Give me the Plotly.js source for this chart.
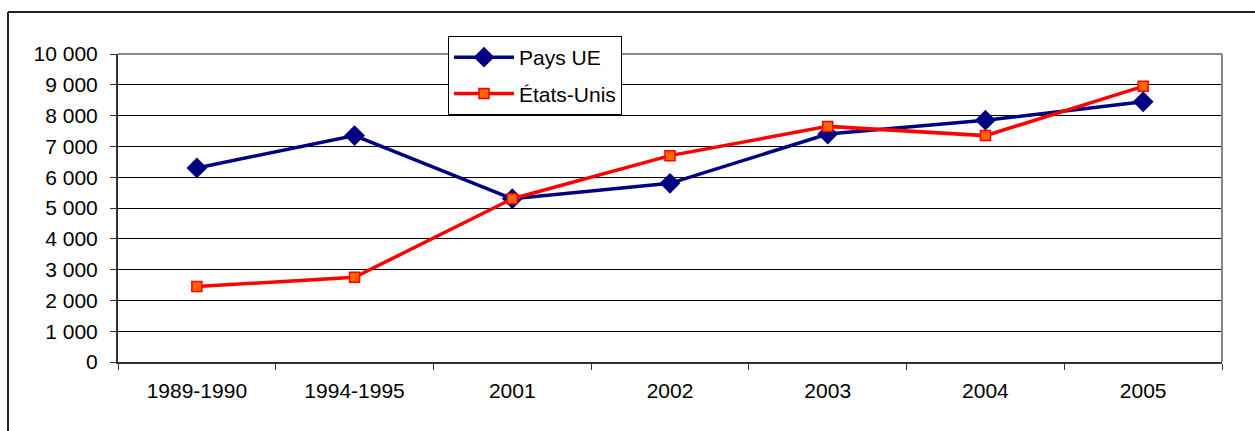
<!DOCTYPE html>
<html>
<head>
<meta charset="utf-8">
<script src="https://cdn.plot.ly/plotly-3.0.1.min.js"></script>
<style>
  html, body { margin: 0; padding: 0; background: #fff; }
  #chart { width: 1255px; height: 431px; }
</style>
</head>
<body>
<div id="chart"></div>
<script>
const categories = ["1989-1990", "1994-1995", "2001", "2002", "2003", "2004", "2005"];
const paysUE = [6300, 7350, 5300, 5800, 7400, 7850, 8450];
const etatsUnis = [2450, 2750, 5300, 6700, 7650, 7350, 8950];
const yTicks = [0, 1000, 2000, 3000, 4000, 5000, 6000, 7000, 8000, 9000, 10000];

const W = 1255, H = 431;
const M = { l: 118, r: 33, t: 54, b: 69 };
const pw = W - M.l - M.r, ph = H - M.t - M.b;
const px = v => (v - M.l) / pw;
const py = v => (H - M.b - v) / ph;

const fontFam = '"Liberation Sans", Arial, sans-serif';

const traces = [
  {
    x: categories, y: paysUE, name: "Pays UE", type: "scatter", mode: "lines+markers",
    line: { color: "#000080", width: 3.5 },
    marker: { symbol: "diamond", size: 16, color: "#000080" },
    legendgroup: "a"
  },
  {
    x: categories, y: etatsUnis, name: "États-Unis", type: "scatter", mode: "lines+markers",
    line: { color: "#FF0000", width: 3.5 },
    marker: { symbol: "square", size: 10, color: "#FF6600", line: { color: "#FF0000", width: 1.5 } },
    legendgroup: "b"
  }
];

const layout = {
  width: W, height: H,
  margin: M,
  paper_bgcolor: "#fff", plot_bgcolor: "#fff",
  font: { family: fontFam, size: 21, color: "#000" },
  separators: ", ",
  showlegend: true,
  legend: {
    x: px(448), y: py(36), xanchor: "left", yanchor: "top",
    bgcolor: "#fff", bordercolor: "#000", borderwidth: 1,
    font: { family: fontFam, size: 21, color: "#000" },
    traceorder: "grouped", tracegroupgap: 6,
    itemwidth: 60
  },
  xaxis: {
    type: "category",
    range: [-0.5, 6.5],
    showgrid: false, zeroline: false,
    showline: true, linecolor: "#333", linewidth: 2,
    ticks: "outside", tickson: "boundaries", ticklen: 6, tickcolor: "#333", tickwidth: 1,
    ticklabelstandoff: 9,
    tickfont: { family: fontFam, size: 21, color: "#000" },
    fixedrange: true
  },
  yaxis: {
    range: [0, 10000],
    tickvals: yTicks, tickformat: ",d",
    showgrid: true, gridcolor: "#000", gridwidth: 1,
    zeroline: false,
    showline: true, linecolor: "#333", linewidth: 2,
    ticks: "outside", ticklen: 6, tickcolor: "#333", tickwidth: 1,
    ticklabelstandoff: 8,
    tickfont: { family: fontFam, size: 21, color: "#000" },
    fixedrange: true
  },
  shapes: [
    { type: "line", xref: "paper", yref: "paper", x0: 0, x1: 1, y0: 1, y1: 1, line: { color: "#888", width: 2 }, layer: "above" },
    { type: "line", xref: "paper", yref: "paper", x0: 1, x1: 1, y0: 0, y1: 1, line: { color: "#888", width: 2 }, layer: "above" },
    { type: "line", xref: "paper", yref: "paper", x0: px(8), x1: px(1260), y0: py(12), y1: py(12), line: { color: "#222", width: 2 } },
    { type: "line", xref: "paper", yref: "paper", x0: px(8), x1: px(8), y0: py(12), y1: py(440), line: { color: "#222", width: 2 } }
  ]
};

Plotly.newPlot("chart", traces, layout, { displayModeBar: false, staticPlot: true });
</script>
</body>
</html>
